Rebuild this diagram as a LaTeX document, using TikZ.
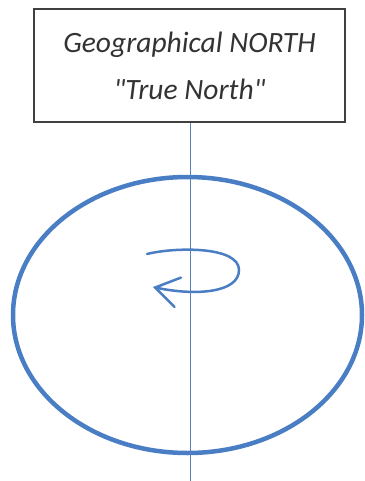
\documentclass[tikz,border=0pt]{standalone}
\usepackage{fontspec}
\setmainfont{Carlito}
\usepackage{tikz}
\usetikzlibrary{arrows.meta}
\definecolor{earthblue}{HTML}{4A7EC4}
\definecolor{axisblue}{HTML}{5A80BC}
\definecolor{boxgray}{HTML}{404040}

\begin{document}
\begin{tikzpicture}[x=1pt, y=-1pt,
  northbox/.style={draw=boxgray, line width=1.3pt, minimum width=311pt, minimum height=113pt,
    align=center, inner sep=0pt, font=\fontsize{29.5}{47}\selectfont\itshape\color{black!80}},
  earth/.style={draw=earthblue, line width=4.5pt},
  spin/.style={draw=earthblue, line width=2.5pt, line cap=round,
    -{Straight Barb[length=23pt, width=30pt, line cap=round]}},
]
\useasboundingbox (0,0) rectangle (364,481);
% box at top, axis straight down through the globe
\node[northbox] (north) at (189.5,65.5) {Geographical NORTH\\\textquotedbl True North\textquotedbl};
\coordinate (axisend) at (190.5,481);
\draw[earth] (187.5,315) ellipse [x radius=174.5pt, y radius=138pt];
\draw[axisblue, line width=1.8pt] (north.south -| axisend) -- (axisend);
% rotation
\draw[spin] (147,254) .. controls (175,247) and (239,246) .. (239,270)
  .. controls (239,293) and (195,296) .. (153,287);
\end{tikzpicture}
\end{document}
